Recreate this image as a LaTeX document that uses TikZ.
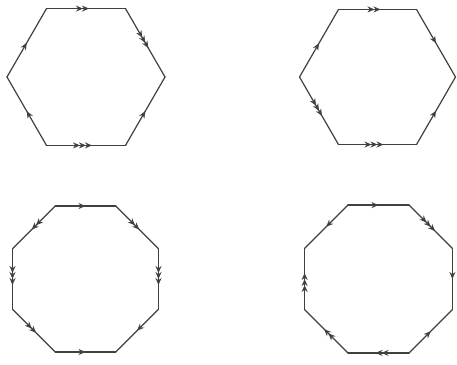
\documentclass[tikz,border=0pt]{standalone}
\usetikzlibrary{decorations.markings,arrows.meta,calc}
\definecolor{ink}{HTML}{404040}
\tikzset{
  edge/.style={draw=ink,line width=1.2pt,line cap=round,line join=round},
  tp/.style={ink},
  a1/.style={edge,postaction={decorate,decoration={markings,
     mark=at position 0.5 with {\arrow[tp]{Stealth[length=7pt,width=6pt]}}}}},
  a2/.style={edge,postaction={decorate,decoration={markings,
     mark=at position 0.5 with {\begin{scope}[xshift=-3pt]\arrow[tp]{Stealth[length=7pt,width=6pt]}\end{scope}},
     mark=at position 0.5 with {\begin{scope}[xshift=3pt]\arrow[tp]{Stealth[length=7pt,width=6pt]}\end{scope}}}}},
  a3/.style={edge,postaction={decorate,decoration={markings,
     mark=at position 0.5 with {\begin{scope}[xshift=-6pt]\arrow[tp]{Stealth[length=7pt,width=6pt]}\end{scope}},
     mark=at position 0.5 with {\arrow[tp]{Stealth[length=7pt,width=6pt]}},
     mark=at position 0.5 with {\begin{scope}[xshift=6pt]\arrow[tp]{Stealth[length=7pt,width=6pt]}\end{scope}}}}},
}
\begin{document}
\begin{tikzpicture}[x=1pt,y=1pt]
\useasboundingbox (0,0) rectangle (457,364);
% hexagon 1
\coordinate (hc) at (86,287);
\foreach \k in {0,...,5}{\coordinate (h\k) at ($(hc)+({60*\k}:79)$);}
\draw[a2] (h2) -- (h1);
\draw[a3] (h1) -- (h0);
\draw[a1] (h5) -- (h0);
\draw[a3] (h4) -- (h5);
\draw[a1] (h4) -- (h3);
\draw[a1] (h3) -- (h2);
% hexagon 2
\coordinate (gc) at (377.5,287);
\foreach \k in {0,...,5}{\coordinate (g\k) at ($(gc)+({60*\k}:78)$);}
\draw[a2] (g2) -- (g1);
\draw[a1] (g1) -- (g0);
\draw[a1] (g5) -- (g0);
\draw[a3] (g4) -- (g5);
\draw[a3] (g3) -- (g4);
\draw[a1] (g3) -- (g2);
% octagon 1
\coordinate (oc) at (85.5,85);
\foreach \k in {0,...,7}{\coordinate (o\k) at ($(oc)+({22.5+45*\k}:79)$);}
\draw[a1] (o2) -- (o1);
\draw[a2] (o1) -- (o0);
\draw[a3] (o0) -- (o7);
\draw[a1] (o7) -- (o6);
\draw[a1] (o5) -- (o6);
\draw[a2] (o4) -- (o5);
\draw[a3] (o3) -- (o4);
\draw[a2] (o2) -- (o3);
% octagon 2
\coordinate (pc) at (378.5,85);
\foreach \k in {0,...,7}{\coordinate (p\k) at ($(pc)+({22.5+45*\k}:80)$);}
\draw[a1] (p2) -- (p1);
\draw[a3] (p1) -- (p0);
\draw[a1] (p0) -- (p7);
\draw[a1] (p6) -- (p7);
\draw[a2] (p6) -- (p5);
\draw[a2] (p5) -- (p4);
\draw[a3] (p4) -- (p3);
\draw[a1] (p2) -- (p3);
\end{tikzpicture}
\end{document}
